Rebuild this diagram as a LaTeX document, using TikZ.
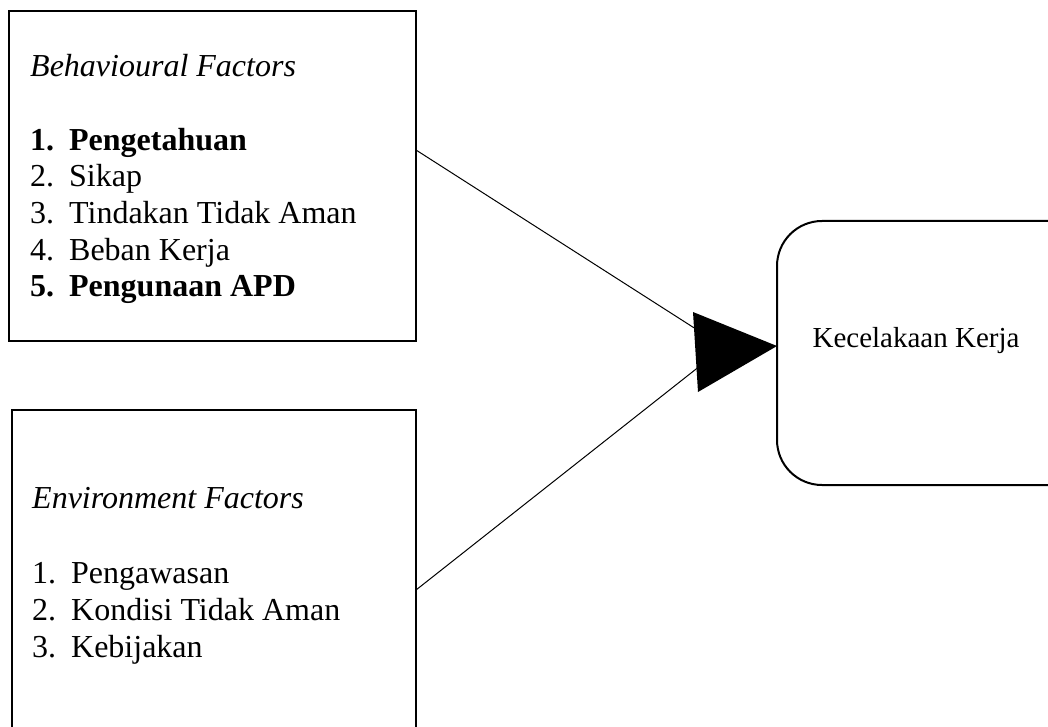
\documentclass[tikz,border=0pt]{standalone}
\usepackage{fontspec}
\setmainfont{Liberation Serif}
\newcommand{\itm}[2]{\makebox[39pt][l]{#1}#2}
\begin{document}
\begin{tikzpicture}[x=1pt,y=-1pt,
  box/.style={draw,line width=2pt,inner sep=0pt,outer sep=0pt},
  txt/.style={anchor=base west,inner sep=0pt,font=\fontsize{32}{36.5}\selectfont},
  ktxt/.style={anchor=base,inner sep=0pt,font=\fontsize{29}{32}\selectfont},
  conn/.style={line width=1pt}]
\useasboundingbox (0,0) rectangle (1048,727);
\clip (0,0) rectangle (1048,727);
% boxes
\node[box,minimum width=407pt,minimum height=330pt] (b1) at (212.5,176) {};
\node[box,minimum width=404.3pt,minimum height=350pt] (b2) at (213.85,585) {};
\node[box,rounded corners=45pt,minimum width=323pt,minimum height=264pt] (k) at (938.5,353) {};
% texts box 1
\node[txt] (h1) at (30,77) {\textit{Behavioural Factors}};
\node[txt] (a1) at (30,150.7) {\textbf{\itm{1.}{Pengetahuan}}};
\node[txt] (a2) at (30,187) {\itm{2.}{Sikap}};
\node[txt] (a3) at (30,223) {\itm{3.}{Tindakan Tidak Aman}};
\node[txt] (a4) at (30,260) {\itm{4.}{Beban Kerja}};
\node[txt] (a5) at (30,296.7) {\textbf{\itm{5.}{Pengunaan APD}}};
% texts box 2
\node[txt] (h2) at (32,508) {\textit{Environment Factors}};
\node[txt] (c1) at (32,583) {\itm{1.}{Pengawasan}};
\node[txt] (c2) at (32,620) {\itm{2.}{Kondisi Tidak Aman}};
\node[txt] (c3) at (32,657) {\itm{3.}{Kebijakan}};
% target text
\node[ktxt] (kt) at (916,347) {Kecelakaan Kerja};
% connectors
\coordinate (p1) at ([yshift=26pt]b1.east);
\coordinate (p2) at ([yshift=-5pt]b2.east);
\coordinate (m) at (724,347);
\draw[conn] (p1) -- (m);
\draw[conn] (p2) -- (m);
\coordinate (t1) at (693,312);
\coordinate (t2) at (698,392);
\coordinate (tip) at (k.west |- 0,346);
\fill (t1) -- (tip) -- (t2) -- cycle;
\end{tikzpicture}
\end{document}
